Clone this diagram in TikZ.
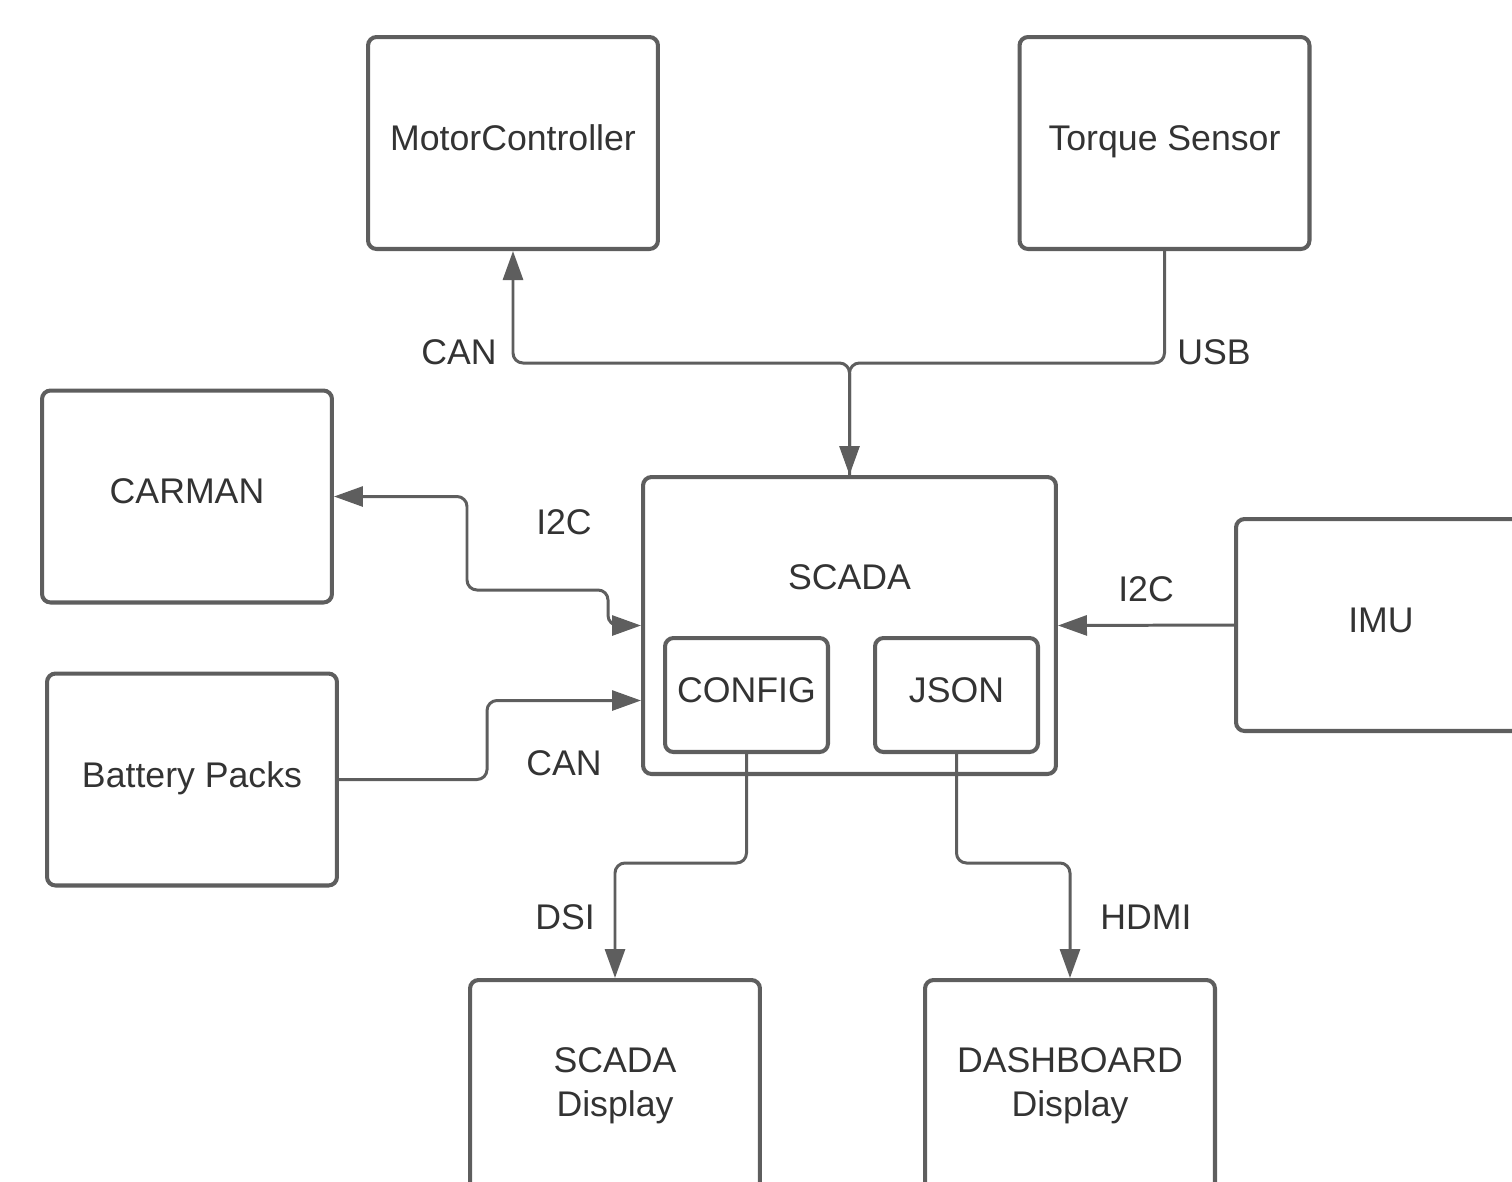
\documentclass[tikz,border=0pt]{standalone}
\usepackage{fontspec}
\setmainfont{Liberation Sans}
\usetikzlibrary{arrows.meta,calc}
\definecolor{linegray}{HTML}{5E5E5E}
\definecolor{textgray}{HTML}{333333}
\begin{document}
\begin{tikzpicture}[x = 0.02cm, y = -0.02cm,
blk/.style = {draw = linegray, line width = 2.3pt, rounded corners = 0.17cm, minimum width = 5.8cm, minimum height = 4.24cm, text = textgray, font = \fontsize{20.3}{25}\selectfont, align = center, inner sep = 0pt, text depth = 0.2cm},
link/.style = {draw = linegray, line width = 1.7pt, rounded corners = 0.2cm},
tip/.style = {-{Triangle[length = 0.58cm, width = 0.4cm]}},
lbl/.style = {text = textgray, font = \fontsize{20.3}{25}\selectfont, inner sep = 0pt}]
\useasboundingbox (0,0) rectangle (1512,1181);
\clip (0,0) rectangle (1512,1181);
\node [blk] (motor) at (513,143) {MotorController};
\node [blk] (torque) at (1164.5,143) {Torque Sensor};
\node [blk] (carman) at (187,496.5) {CARMAN};
\node [blk] (battery) at (192,779.5) {Battery Packs};
\node [blk, minimum width = 8.26cm, minimum height = 5.94cm] (scada) at (849.5,625.5) {};
\node [lbl] (scadatxt) at (849.5,577) {SCADA};
\node [blk, minimum width = 3.26cm, minimum height = 2.28cm] (config) at (746.5,695) {CONFIG};
\node [blk, minimum width = 3.26cm, minimum height = 2.28cm] (json) at (956.5,695) {JSON};
\node [blk] (imu) at (1381,625) {IMU};
\node [blk, text depth = {}] (sdisp) at (615,1086) {SCADA\\Display};
\node [blk, text depth = {}] (ddisp) at (1070,1086) {DASHBOARD\\Display};
\coordinate (jn) at (849.5,363);
\draw [link, {Triangle[length = 0.58cm, width = 0.4cm]}-] (motor.south) |- (jn) -- (scada.north);
\draw [link, tip] (torque.south) |- (jn) -- (scada.north);
\draw [link, {Triangle[length = 0.58cm, width = 0.4cm]}-{Triangle[length = 0.58cm, width = 0.4cm]}] (carman.east) -| (467,590) -| ($(scada.west)+(-33,0)$) -- (scada.west);
\draw [link, tip] (battery.east) -| ($(scada.west)+(-154,75)$) -- ($(scada.west)+(0,75)$);
\draw [link, tip] (imu.west) -- (scada.east);
\draw [link, tip] (config.south) |- ($(sdisp.north)+(0,-115)$) -- (sdisp.north);
\draw [link, tip] (json.south) |- ($(ddisp.north)+(0,-115)$) -- (ddisp.north);
\foreach \n/\x/\y/\t in {canm/459/352/CAN, usb/1214/352/USB, icar/564/522/I2C, canb/564/763/CAN, iimu/1146/589/I2C, dsi/565/917/DSI, hdmi/1146/917/HDMI}{
\node [lbl] (\n) at (\x,\y) {\t};
}
\end{tikzpicture}
\end{document}
